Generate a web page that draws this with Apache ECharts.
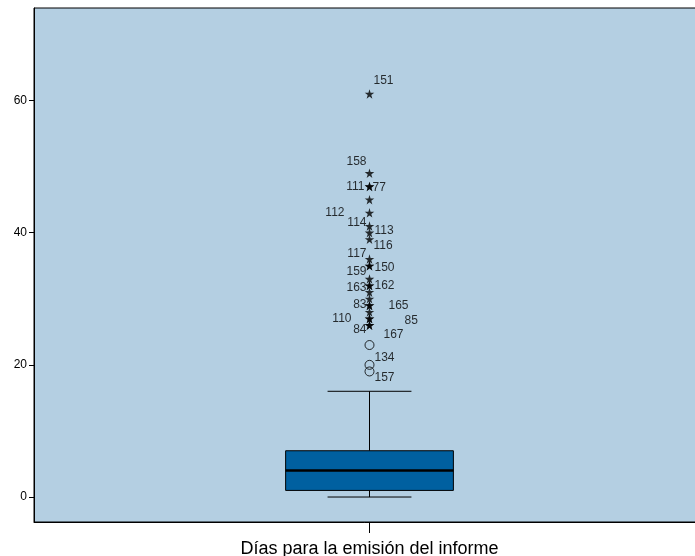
<!DOCTYPE html>
<html>
<head>
<meta charset="utf-8">
<script src="https://cdn.jsdelivr.net/npm/echarts@6/dist/echarts.min.js"></script>
<style>html,body{margin:0;padding:0;background:#fff;overflow:hidden}#c{width:695px;height:556px}</style>
</head>
<body>
<div id="c"></div>
<script>
// ---- data ----
const categories = ['Días para la emisión del informe'];
// min, Q1, median, Q3, max
const boxStats = [[0, 1, 4, 7, 16]];
const extremeValues = [61, 49, 47, 47, 45, 43, 41, 40, 39, 36, 35, 35, 33, 32, 32, 31, 30, 29, 29, 28, 27, 27, 26, 26];
const extremeIds    = ['151','158','111','77','','112','114','113','116','117','150','159','','163','162','','','83','165','','110','85','84','167'];
const outlierValues = [23, 20, 19];
const outlierIds    = ['', '134', '157'];
const yTicks = [0, 20, 40, 60];

// ---- label layout (style only) ----
const labelLayout = {
  '151': ['left', 4, -13], '158': ['right', -3, -12], '111': ['right', -5, 0], '77': ['left', 3, 1],
  '112': ['right', -25, 0], '114': ['right', -3, -3], '113': ['left', 5, -2], '116': ['left', 4, 6],
  '117': ['right', -3, -5], '150': ['left', 5, 2], '159': ['right', -3, 6], '163': ['right', -3, 2],
  '162': ['left', 5, 0], '83': ['right', -3, -1], '165': ['left', 19, 0], '110': ['right', -18, 0],
  '85': ['left', 35, 2], '84': ['right', -3, 4], '167': ['left', 14, 9], '134': ['left', 5, -7],
  '157': ['left', 5, 6]
};

const FONT = '"Liberation Sans", Arial, sans-serif';

function pointItems(values, ids) {
  return values.map((v, i) => {
    const id = ids[i];
    const item = { value: [0, v] };
    if (id && labelLayout[id]) {
      const L = labelLayout[id];
      item.label = {
        show: true, formatter: id, position: 'inside', align: L[0], verticalAlign: 'middle',
        offset: [L[1], L[2]], color: '#000', fontSize: 12, fontFamily: FONT
      };
    }
    return item;
  });
}

const starPath = 'path://M50,0 L61,35 L98,35 L68,57 L79,91 L50,70 L21,91 L32,57 L2,35 L39,35 Z';

const chart = echarts.init(document.getElementById('c'), null, { renderer: 'canvas' });
chart.setOption({
  animation: false,
  backgroundColor: '#fff',
  grid: {
    left: 34, width: 671, top: 8, bottom: 34, show: true,
    outerBoundsMode: 'none', containLabel: false,
    backgroundColor: '#b4cfe2', borderColor: '#000', borderWidth: 1
  },
  xAxis: {
    type: 'category', data: categories, boundaryGap: true,
    axisLine: { onZero: false, lineStyle: { color: '#000', width: 1 } },
    axisTick: { show: true, interval: 0, alignWithLabel: true, length: 11, lineStyle: { color: '#000' } },
    axisLabel: { color: '#000', fontSize: 18, fontFamily: FONT, margin: 18 },
    splitLine: { show: false }
  },
  yAxis: {
    type: 'value', min: -3.78, max: 74,
    axisLine: { show: true, lineStyle: { color: '#000', width: 1 } },
    axisTick: { show: true, length: 5, customValues: yTicks, lineStyle: { color: '#000' } },
    axisLabel: { color: '#000', fontSize: 12, fontFamily: FONT, margin: 7, customValues: yTicks },
    splitLine: { show: false }
  },
  series: [
    {
      type: 'custom',
      data: boxStats.map((s, i) => [i].concat(s)),
      encode: { x: 0, y: [1, 2, 3, 4, 5] },
      renderItem: function (params, api) {
        const c = api.value(0);
        const band = api.size([1, 0])[0];
        const half = band * 0.125;
        const cap = band * 0.0625;
        const pMin = api.coord([c, api.value(1)]);
        const pQ1 = api.coord([c, api.value(2)]);
        const pMed = api.coord([c, api.value(3)]);
        const pQ3 = api.coord([c, api.value(4)]);
        const pMax = api.coord([c, api.value(5)]);
        const x = pMed[0];
        const ls = { stroke: '#000', lineWidth: 1 };
        return {
          type: 'group',
          children: [
            { type: 'line', shape: { x1: x, y1: pMin[1], x2: x, y2: pQ1[1] }, style: ls },
            { type: 'line', shape: { x1: x, y1: pQ3[1], x2: x, y2: pMax[1] }, style: ls },
            { type: 'line', shape: { x1: x - cap, y1: pMin[1], x2: x + cap, y2: pMin[1] }, style: ls },
            { type: 'line', shape: { x1: x - cap, y1: pMax[1], x2: x + cap, y2: pMax[1] }, style: ls },
            { type: 'rect', shape: { x: x - half, y: pQ3[1], width: half * 2, height: pQ1[1] - pQ3[1] },
              style: { fill: '#0060a0', stroke: '#000', lineWidth: 1 } },
            { type: 'line', shape: { x1: x - half, y1: pMed[1], x2: x + half, y2: pMed[1] },
              style: { stroke: '#000', lineWidth: 2.5 } }
          ]
        };
      },
      z: 2
    },
    {
      type: 'scatter', symbol: starPath, symbolSize: 9.5,
      itemStyle: { color: '#000' },
      data: pointItems(extremeValues, extremeIds), z: 3
    },
    {
      type: 'scatter', symbol: 'circle', symbolSize: 9,
      itemStyle: { color: 'rgba(0,0,0,0)', borderColor: '#000', borderWidth: 1 },
      data: pointItems(outlierValues, outlierIds), z: 3
    }
  ]
});
</script>
</body>
</html>
